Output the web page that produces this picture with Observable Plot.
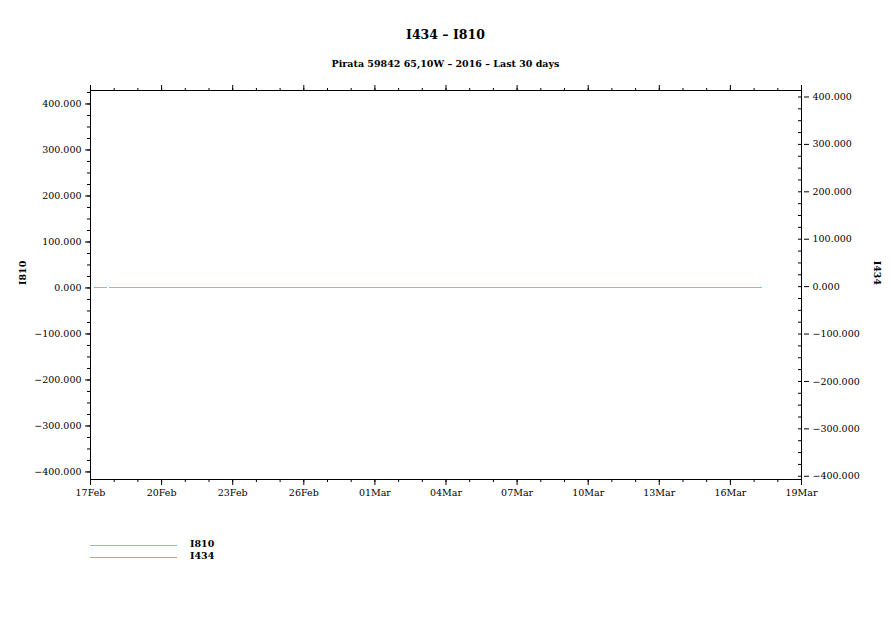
<!DOCTYPE html>
<html>
<head>
<meta charset="utf-8">
<script src="https://cdn.jsdelivr.net/npm/d3@7"></script>
<script src="https://cdn.jsdelivr.net/npm/@observablehq/plot@0.6"></script>
<style>
  body { margin: 0; background: #fff; }
  #wrap { position: relative; width: 891px; height: 630px; font-family: "DejaVu Serif", serif; color: #000; }
  #wrap svg { position: absolute; left: 0; top: 0; }
  .title { position: absolute; left: 0; width: 891px; text-align: center; }
  .leg { position: absolute; font-size: 9.5px; }
  .legline { position: absolute; height: 0; width: 87px; left: 90px; }
</style>
</head>
<body>
<div id="wrap"></div>
<script>
// ---- data ----
const titleText = "I434 \u2013 I810";
const subtitleText = "Pirata 59842 65,10W \u2013 2016 \u2013 Last 30 days";
const leftLabel = "I810";
const rightLabel = "I434";

// x in days since 17Feb (calendar of the reference: 30 days to 19Mar)
const xTickDays = [0, 3, 6, 9, 12, 15, 18, 21, 24, 27, 30];
const xTickLabels = ["17Feb", "20Feb", "23Feb", "26Feb", "01Mar", "04Mar", "07Mar", "10Mar", "13Mar", "16Mar", "19Mar"];

const leftTicks = [-400, -300, -200, -100, 0, 100, 200, 300, 400];
const rightTicks = [-400, -300, -200, -100, 0, 100, 200, 300, 400];
const leftDomain = [-416.4, 429.3];
const rightDomain = [-406.8, 413.7];

// series: time (days since 17Feb) and value; NaN marks the data gap
const i810Days   = [0.14, 0.40, 0.70, 0.74, 0.78, 2, 5, 8, 11, 14, 17, 20, 23, 26, 28.34];
const i810Values = [0, 0, 0, NaN, 0, 0, 0, 0, 0, 0, 0, 0, 0, 0, 0];
const i434Days   = [0.14, 0.40, 0.70, 0.74, 0.78, 2, 5, 8, 11, 14, 17, 20, 23, 26, 28.34];
const i434Values = [0, 0, 0, NaN, 0, 0, 0, 0, 0, 0, 0, 0, 0, 0, 0];

const colorI810 = "#30e6ea";
const colorI434 = "#f0a028";

// ---- build ----
const i810 = i810Days.map((d, i) => ({day: d, value: i810Values[i]}));
const i434 = i434Days.map((d, i) => ({day: d, value: i434Values[i]}));

const fmt = v => (v < 0 ? "\u2212" : "") + Math.abs(v).toFixed(3);
const rightToLeft = v => leftDomain[0] + (v - rightDomain[0]) / (rightDomain[1] - rightDomain[0]) * (leftDomain[1] - leftDomain[0]);
const leftToRight = v => rightDomain[0] + (v - leftDomain[0]) / (leftDomain[1] - leftDomain[0]) * (rightDomain[1] - rightDomain[0]);

const minorDays = d3.range(0, 31, 1);
const leftMinor = d3.range(-400, 430, 25);
const rightMinor = d3.range(-400, 414, 25).map(rightToLeft);

const blank = () => "";

const chart = Plot.plot({
  width: 891,
  height: 630,
  marginLeft: 90,
  marginRight: 90,
  marginTop: 90,
  marginBottom: 151,
  style: {fontFamily: "DejaVu Serif, serif", fontSize: "9.5px", color: "#000", background: "transparent"},
  x: {domain: [0, 30], axis: null, label: null},
  y: {domain: leftDomain, axis: null, label: null},
  marks: [
    Plot.frame({stroke: "#000"}),
    // bottom axis
    Plot.axisX({anchor: "bottom", label: null, ticks: minorDays, tickSize: 3, tickFormat: blank}),
    Plot.axisX({anchor: "bottom", label: null, ticks: xTickDays, tickSize: 6, tickPadding: 4,
      tickFormat: (d) => xTickLabels[xTickDays.indexOf(d)]}),
    // top axis
    Plot.axisX({anchor: "top", label: null, ticks: minorDays, tickSize: 3, tickFormat: blank}),
    Plot.axisX({anchor: "top", label: null, ticks: xTickDays, tickSize: 6, tickFormat: blank}),
    // left axis
    Plot.axisY({anchor: "left", label: null, ticks: leftMinor, tickSize: 3, tickFormat: blank}),
    Plot.axisY({anchor: "left", label: null, ticks: leftTicks, tickSize: 5, tickPadding: 4, tickFormat: fmt}),
    // right axis (own scale mapped onto the chart)
    Plot.axisY({anchor: "right", label: null, ticks: rightMinor, tickSize: -4, tickFormat: blank}),
    Plot.axisY({anchor: "right", label: null, ticks: rightTicks.map(rightToLeft), tickSize: 5, tickPadding: 4,
      textAnchor: "start", dx: 2,
      tickFormat: v => fmt(Math.round(leftToRight(v)))}),
    // axis titles
    Plot.text([leftLabel], {frameAnchor: "left", dx: -68, rotate: -90, text: d => d, fontWeight: "bold"}),
    Plot.text([rightLabel], {frameAnchor: "right", dx: 76, rotate: 90, text: d => d, fontWeight: "bold"}),
    // series
    Plot.line(i434, {x: "day", y: "value", stroke: colorI434, strokeWidth: 1, shapeRendering: "crispEdges"}),
    Plot.line(i810, {x: "day", y: "value", stroke: colorI810, strokeWidth: 1, shapeRendering: "crispEdges"})
  ]
});

const wrap = document.getElementById("wrap");
wrap.appendChild(chart);

function addDiv(cls, text, style) {
  const el = document.createElement("div");
  el.className = cls;
  if (text) el.textContent = text;
  Object.assign(el.style, style);
  wrap.appendChild(el);
  return el;
}
addDiv("title", titleText, {top: "27px", fontSize: "12.5px", fontWeight: "bold"});
addDiv("title", subtitleText, {top: "58px", fontSize: "9.5px", fontWeight: "bold"});
addDiv("legline", null, {top: "545px", borderTop: `1px solid ${colorI810}`});
addDiv("legline", null, {top: "557px", borderTop: `1px solid ${colorI434}`});
addDiv("leg", leftLabel, {left: "190px", top: "538px", fontWeight: "bold"});
addDiv("leg", rightLabel, {left: "190px", top: "550px", fontWeight: "bold"});
</script>
</body>
</html>
